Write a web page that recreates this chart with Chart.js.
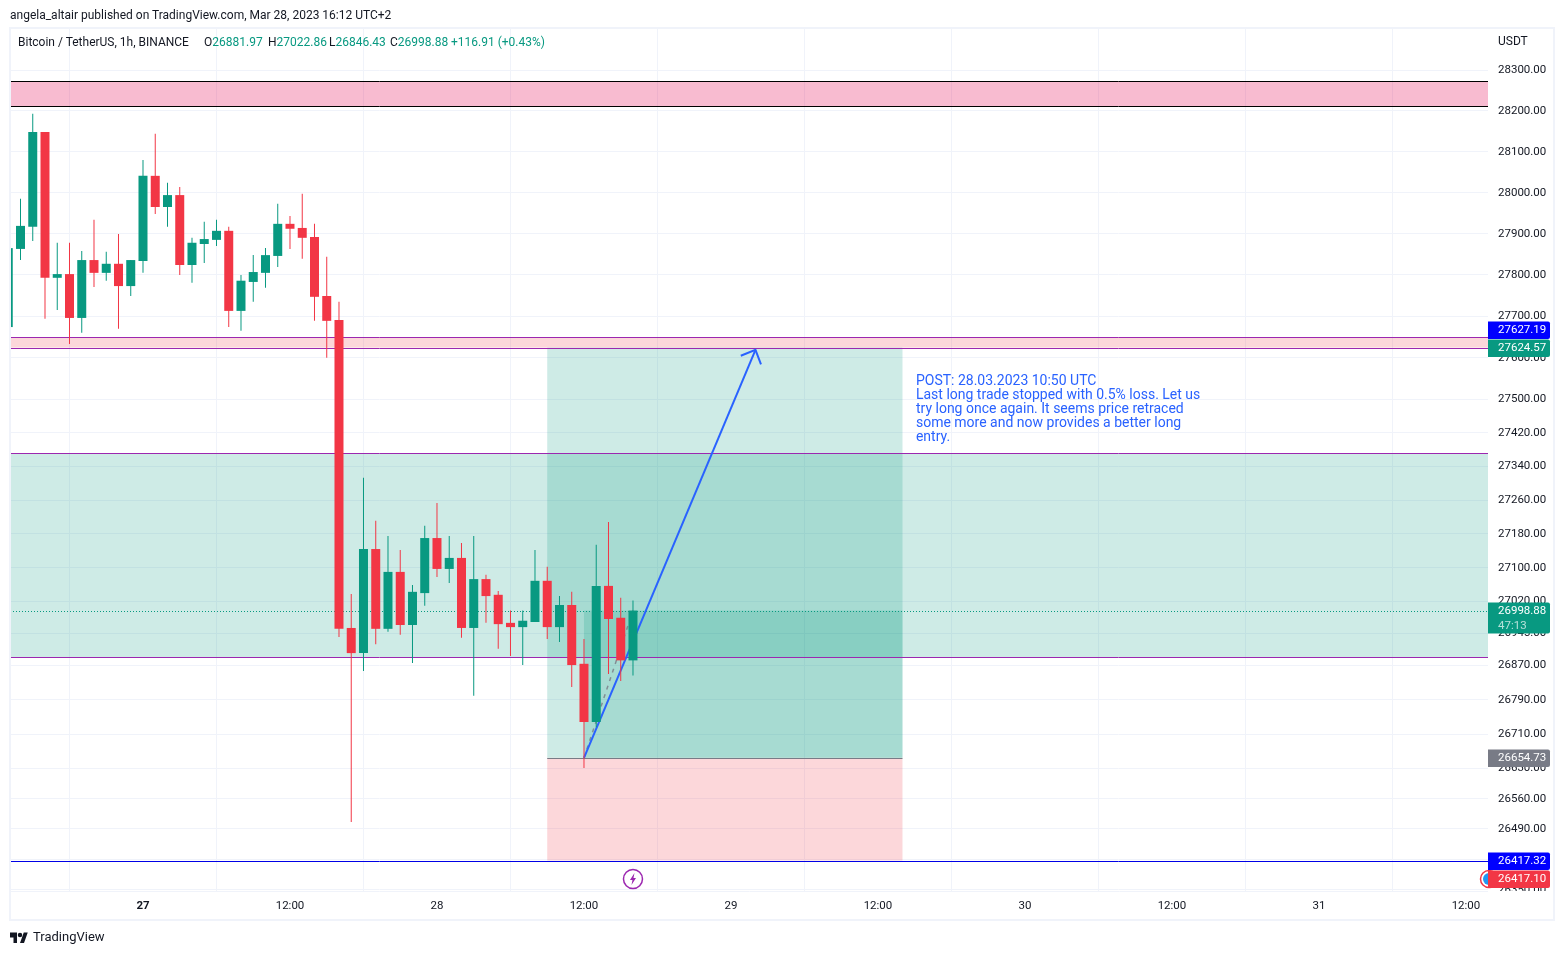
<!DOCTYPE html>
<html>
<head>
<meta charset="utf-8">
<title>Bitcoin / TetherUS</title>
<script src="https://cdn.jsdelivr.net/npm/chart.js@4/dist/chart.umd.min.js"></script>
<style>
    html, body { margin: 0; padding: 0; background: #fff; }
    body { width: 1564px; height: 955px; position: relative; overflow: hidden; font-family: Roboto, sans-serif; color: #131722; }
    canvas { position: absolute; left: 0; top: 0; display: block; }
    .frame { position: absolute; left: 9px; top: 27px; width: 1542px; height: 890px; border: 2px solid #f0f3fa; }
    .txt { position: absolute; white-space: nowrap; font-size: 12px; line-height: 14px; }
    .green { color: #089981; }
</style>
</head>
<body>
<canvas id="chart" width="1564" height="955"></canvas>
<div class="frame"></div>
<div class="txt" style="left:10px;top:8px">angela_altair published on TradingView.com, Mar 28, 2023 16:12 UTC+2</div>
<div class="txt" style="left:18px;top:35px">Bitcoin / TetherUS, 1h, BINANCE</div>
<div class="txt" style="left:204px;top:35px">O<span class="green">26881.97</span></div>
<div class="txt" style="left:268px;top:35px">H<span class="green">27022.86</span></div>
<div class="txt" style="left:329px;top:35px">L<span class="green">26846.43</span></div>
<div class="txt" style="left:390px;top:35px">C<span class="green">26998.88</span></div>
<div class="txt green" style="left:451px;top:35px">+116.91 (+0.43%)</div>
<div class="txt" style="left:1498px;top:34px">USDT</div>
<svg style="position:absolute;left:10px;top:932px" width="18" height="11" viewBox="0 0 36 22"><path fill="#131722" d="M14 22H7V11H0V1h14v21zM28 22h-8l7.5-21h8L28 22z"/><circle fill="#131722" cx="20" cy="6" r="4.5"/></svg>
<div class="txt" style="left:33px;top:930px;font-size:13px">TradingView</div>

<script>
//Candles, hour 0 is the start of the 27th
var hours = [-11, -10, -9, -8, -7, -6, -5, -4, -3, -2, -1, 0, 1, 2, 3, 4, 5, 6, 7, 8, 9, 10, 11, 12, 13, 14, 15, 16, 17, 18, 19, 20, 21, 22, 23, 24, 25, 26, 27, 28, 29, 30, 31, 32, 33, 34, 35, 36, 37, 38, 39, 40];
var opens = [27674, 27863, 27917, 28148, 27793, 27802, 27696, 27836, 27805, 27827, 27773, 27834, 28041, 27965, 27994, 27824, 27875, 27885, 27907, 27713, 27783, 27805, 27846, 27924, 27914, 27892, 27749, 27691, 26958, 26899, 27144, 26956, 27090, 26965, 27040, 27170, 27097, 27123, 26958, 27073, 27036, 26970, 26960, 26972, 27069, 26960, 27012, 26874, 26738, 27057, 26982, 26881.97];
var highs = [27865, 27985, 28193, 28148, 27878, 27878, 27858, 27934, 27856, 27899, 27836, 28080, 28144, 28024, 28014, 27890, 27929, 27934, 27917, 27800, 27848, 27865, 27973, 27943, 27997, 27924, 27844, 27735, 27038, 27313, 27211, 27175, 27142, 27059, 27199, 27253, 27175, 27158, 27175, 27083, 27045, 26999, 26999, 27142, 27102, 27033, 27043, 26932, 27154, 27208, 27029, 27022.86];
var lows = [27674, 27836, 27882, 27694, 27715, 27633, 27660, 27771, 27786, 27670, 27749, 27805, 27948, 27917, 27800, 27781, 27829, 27870, 27674, 27665, 27735, 27769, 27819, 27863, 27839, 27689, 27600, 26937, 26506, 26857, 26920, 26949, 26942, 26876, 27010, 27078, 27064, 26935, 26799, 26970, 26909, 26892, 26871, 26972, 26932, 26925, 26820, 26631, 26726, 26850, 26834, 26846.43];
var closes = [27865, 27919, 28148, 27793, 27802, 27696, 27836, 27805, 27827, 27773, 27836, 28041, 27965, 27994, 27824, 27878, 27887, 27907, 27713, 27786, 27807, 27848, 27924, 27912, 27890, 27747, 27689, 26956, 26899, 27144, 26956, 27090, 26965, 27043, 27170, 27097, 27123, 26958, 27073, 27033, 26967, 26960, 26975, 27069, 26960, 27012, 26871, 26738, 27057, 26979, 26882, 26998.88];

//Axis ticks
var priceTicks = [28300, 28200, 28100, 28000, 27900, 27800, 27700, 27600, 27500, 27420, 27340, 27260, 27180, 27100, 27020, 26945, 26870, 26790, 26710, 26630, 26560, 26490, 26420, 26350];
var timeTicks = [0, 12, 24, 36, 48, 60, 72, 84, 96, 108];
var timeLabels = ['27', '12:00', '28', '12:00', '29', '12:00', '30', '12:00', '31', '12:00'];

//Visible range
var hourMin = -10.857;
var hourMax = 109.8;
var priceMin = 26347.3;
var priceMax = 28402;

//Shaded zones (hours and prices)
var zoneStart = [hourMin, hourMin, hourMin, 33, 33, 36];
var zoneEnd = [hourMax, hourMax, hourMax, 62, 62, 62];
var zoneTop = [28273, 27650, 27371, 27624.57, 26654.73, 26998.88];
var zoneBottom = [28212, 27624.57, 26890, 26654.73, 26417.32, 26654.73];
var zoneColors = ['rgba(233,30,99,0.3)', 'rgba(242,54,69,0.2)', 'rgba(8,153,129,0.2)', 'rgba(8,153,129,0.2)', 'rgba(242,54,69,0.2)', 'rgba(8,153,129,0.2)'];

//Horizontal levels
var levelPrices = [28273, 28212, 27650, 27624.57, 27371, 26890, 26417.32, 26654.73];
var levelStart = [hourMin, hourMin, hourMin, hourMin, hourMin, hourMin, hourMin, 33];
var levelEnd = [hourMax, hourMax, hourMax, hourMax, hourMax, hourMax, hourMax, 62];
var levelColors = ['#000000', '#000000', '#9c27b0', '#9c27b0', '#9c27b0', '#9c27b0', '#0000e6', '#787b86'];
var lastPrice = 26998.88;

//Drawn arrow and the position's dashed line
var arrowHours = [36, 50];
var arrowPrices = [26654.73, 27619];
var headHours = [48.8, 50, 50.45];
var headPrices = [27605, 27619, 27584];
var dashHours = [36, 40];
var dashPrices = [26654.73, 26998.88];

//Price axis badges
var badgePrices = [27627.19, 27624.57, 26998.88, 26654.73, 26417.32, 26417.10];
var badgeTexts = ['27627.19', '27624.57', '26998.88', '26654.73', '26417.32', '26417.10'];
var badgeColors = ['#0000ff', '#089981', '#089981', '#787b86', '#0000ff', '#f23645'];
var badgeShift = [-16, 0, 0, 0, 0, 18];

//Note next to the position
var noteHour = 63.1;
var notePrice = 27544;
var noteLines = [
    'POST: 28.03.2023 10:50 UTC',
    'Last long trade stopped with 0.5% loss. Let us',
    'try long once again. It seems price retraced',
    'some more and now provides a better long',
    'entry.'
];

function toPoints(xs, ys) {
    return xs.map(function (x, i) { return { x: x, y: ys[i] }; });
}

function candleColors() {
    return closes.map(function (c, i) { return c >= opens[i] ? '#089981' : '#f23645'; });
}

var wicks = hours.map(function (h, i) { return { x: h, y: [lows[i], highs[i]] }; });
var bodies = hours.map(function (h, i) { return { x: h, y: [opens[i], closes[i]] }; });

function lineDataset(points, color, width, dash) {
    return {
        type: 'line', data: points, borderColor: color, borderWidth: width, borderDash: dash,
        pointRadius: 0, tension: 0, fill: false, order: 3
    };
}

//Zones and levels sit under the candles
var backgroundPlugin = {
    id: 'background',
    beforeDatasetsDraw: function (chart) {
        var ctx = chart.ctx, xs = chart.scales.x, ys = chart.scales.y, area = chart.chartArea;
        ctx.save();
        ctx.beginPath();
        ctx.rect(area.left, area.top, area.width, area.height);
        ctx.clip();
        for (var i = 0; i < zoneColors.length; i++) {
            var x0 = xs.getPixelForValue(zoneStart[i]), x1 = xs.getPixelForValue(zoneEnd[i]);
            var y0 = ys.getPixelForValue(zoneTop[i]), y1 = ys.getPixelForValue(zoneBottom[i]);
            ctx.fillStyle = zoneColors[i];
            ctx.fillRect(x0, y0, x1 - x0, y1 - y0);
        }
        ctx.lineWidth = 1;
        for (var j = 0; j < levelPrices.length; j++) {
            var y = Math.round(ys.getPixelForValue(levelPrices[j])) + 0.5;
            ctx.strokeStyle = levelColors[j];
            ctx.beginPath();
            ctx.moveTo(xs.getPixelForValue(levelStart[j]), y);
            ctx.lineTo(xs.getPixelForValue(levelEnd[j]), y);
            ctx.stroke();
        }
        var ly = Math.round(ys.getPixelForValue(lastPrice)) + 0.5;
        ctx.strokeStyle = '#089981';
        ctx.setLineDash([1, 2]);
        ctx.beginPath();
        ctx.moveTo(area.left, ly);
        ctx.lineTo(area.right, ly);
        ctx.stroke();
        ctx.restore();
    }
};

//Note, marker icons and the price badges go on top
var overlayPlugin = {
    id: 'overlay',
    afterDraw: function (chart) {
        var ctx = chart.ctx, xs = chart.scales.x, ys = chart.scales.y, area = chart.chartArea;
        ctx.save();

        //note text
        ctx.fillStyle = '#2962ff';
        ctx.font = '14px Roboto';
        ctx.textAlign = 'left';
        ctx.textBaseline = 'middle';
        for (var n = 0; n < noteLines.length; n++) {
            ctx.fillText(noteLines[n], xs.getPixelForValue(noteHour), ys.getPixelForValue(notePrice) + n * 14);
        }

        //lightning marker on the last candle
        var mx = xs.getPixelForValue(hours[hours.length - 1]);
        var my = area.bottom - 12;
        ctx.strokeStyle = '#9c27b0';
        ctx.fillStyle = '#9c27b0';
        ctx.lineWidth = 1.5;
        ctx.beginPath();
        ctx.arc(mx, my, 9.5, 0, Math.PI * 2);
        ctx.stroke();
        ctx.beginPath();
        ctx.moveTo(mx + 1.5, my - 6);
        ctx.lineTo(mx - 3, my + 1);
        ctx.lineTo(mx - 0.5, my + 1);
        ctx.lineTo(mx - 1.5, my + 6);
        ctx.lineTo(mx + 3, my - 1);
        ctx.lineTo(mx + 0.5, my - 1);
        ctx.closePath();
        ctx.fill();

        //hide what spills out of the price column
        ctx.fillStyle = '#ffffff';
        ctx.fillRect(area.right, area.bottom, 64, 28);

        //calendar marker peeking from behind the red badge
        ctx.strokeStyle = '#f23645';
        ctx.lineWidth = 1.5;
        ctx.beginPath();
        ctx.arc(area.right + 1, area.bottom - 12, 8.5, 0, Math.PI * 2);
        ctx.stroke();
        ctx.fillStyle = '#2196f3';
        ctx.beginPath();
        ctx.arc(area.right + 1, area.bottom - 12, 6, 0, Math.PI * 2);
        ctx.fill();

        //badges
        ctx.font = '11.5px Roboto';
        for (var i = 0; i < badgePrices.length; i++) {
            var cy = Math.round(ys.getPixelForValue(badgePrices[i])) + badgeShift[i];
            var tall = badgeTexts[i] === '26998.88';
            ctx.fillStyle = badgeColors[i];
            ctx.beginPath();
            ctx.roundRect(area.right, cy - 8.5, 62, tall ? 31 : 17.5, [0, 2, 2, 0]);
            ctx.fill();
            ctx.fillStyle = '#ffffff';
            ctx.fillText(badgeTexts[i], area.right + 10, cy + 0.5);
            if (tall) {
                ctx.fillStyle = 'rgba(255,255,255,0.7)';
                ctx.fillText('47:13', area.right + 10, cy + 15);
            }
        }
        ctx.restore();
    }
};

new Chart(document.getElementById('chart').getContext('2d'), {
    type: 'bar',
    data: {
        datasets: [
            { data: bodies, backgroundColor: candleColors(), barThickness: 9, grouped: false, inflateAmount: 0, order: 1 },
            { data: wicks, backgroundColor: candleColors(), barThickness: 1, grouped: false, inflateAmount: 0, order: 2 },
            lineDataset(toPoints(arrowHours, arrowPrices), '#2962ff', 2, []),
            lineDataset(toPoints(headHours, headPrices), '#2962ff', 2, []),
            lineDataset(toPoints(dashHours, dashPrices), 'rgba(120,123,134,0.8)', 1.5, [4, 5])
        ]
    },
    options: {
        responsive: false,
        animation: false,
        devicePixelRatio: 1,
        layout: { padding: { left: 10, top: 29, right: 10, bottom: 35 } },
        plugins: { legend: { display: false }, tooltip: { enabled: false } },
        scales: {
            x: {
                type: 'linear',
                min: hourMin,
                max: hourMax,
                offset: false,
                grid: { color: '#f0f3fa', drawTicks: false },
                border: { color: '#f0f3fa' },
                afterBuildTicks: function (scale) {
                    scale.ticks = timeTicks.map(function (v) { return { value: v }; });
                },
                afterFit: function (scale) { scale.height = 29; },
                ticks: {
                    autoSkip: false,
                    maxRotation: 0,
                    padding: 8,
                    color: '#131722',
                    font: function (ctx) {
                        return { family: 'Roboto', size: 11.5, weight: ctx.index === 0 ? 'bold' : 'normal' };
                    },
                    callback: function (value, index) { return timeLabels[index]; }
                }
            },
            y: {
                type: 'logarithmic',
                position: 'right',
                min: priceMin,
                max: priceMax,
                grid: { color: '#f0f3fa', drawTicks: false },
                border: { display: false },
                afterBuildTicks: function (scale) {
                    scale.ticks = priceTicks.map(function (v) { return { value: v }; });
                },
                afterFit: function (scale) { scale.width = 66; },
                ticks: {
                    autoSkip: false,
                    padding: 10,
                    color: '#131722',
                    font: { family: 'Roboto', size: 11.5 },
                    callback: function (value) { return Number(value).toFixed(2); }
                }
            }
        }
    },
    plugins: [backgroundPlugin, overlayPlugin]
});
</script>
</body>
</html>
